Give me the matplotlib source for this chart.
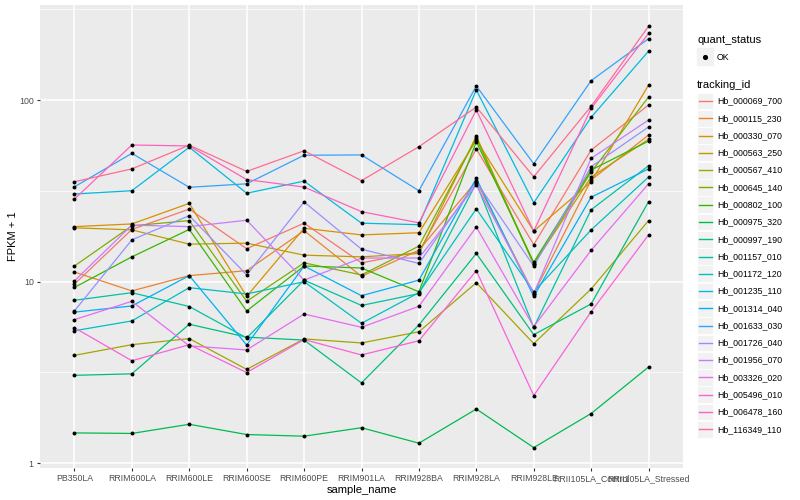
import matplotlib.pyplot as plt
from matplotlib.lines import Line2D
from matplotlib.patches import Rectangle
from matplotlib.ticker import FixedLocator, NullFormatter

plt.rcParams['font.family'] = ['Liberation Sans', 'DejaVu Sans']

# x categories
samples = ["PB350LA", "RRIM600LA", "RRIM600LE", "RRIM600SE", "RRIM600PE", "RRIM901LA",
           "RRIM928BA", "RRIM928LA", "RRIM928LE", "RRII105LA_Control", "RRII105LA_Stressed"]

# FPKM + 1 per gene, one value per sample
hb_000069_700 = [9.7, 19.4, 25.1, 15.2, 21.0, 12.7, 14.6, 53.8, 16.0, 53.1, 94.0]
hb_000115_230 = [11.3, 8.9, 10.8, 11.5, 19.1, 10.7, 14.9, 35.8, 8.6, 36.3, 64.2]
hb_000330_070 = [20.1, 20.8, 27.0, 8.3, 19.7, 18.1, 18.6, 60.3, 19.0, 35.5, 121.0]
hb_000563_250 = [19.8, 19.3, 16.1, 16.3, 14.0, 13.7, 14.3, 63.4, 12.5, 37.7, 60.8]
hb_000567_410 = [3.93, 4.50, 4.86, 3.29, 4.84, 4.60, 5.30, 9.87, 4.56, 9.12, 21.7]
hb_000645_140 = [12.2, 20.3, 21.7, 7.8, 12.7, 10.9, 15.7, 61.8, 12.5, 40.2, 104.0]
hb_000802_100 = [9.3, 13.7, 19.4, 6.9, 12.2, 11.9, 8.8, 59.0, 12.8, 41.2, 59.5]
hb_000975_320 = [1.47, 1.46, 1.64, 1.44, 1.41, 1.57, 1.29, 1.99, 1.22, 1.88, 3.39]
hb_000997_190 = [3.05, 3.11, 5.83, 4.95, 4.77, 2.77, 5.78, 14.3, 5.11, 7.54, 27.6]
hb_001157_010 = [7.9, 8.7, 7.3, 4.9, 10.2, 7.4, 8.6, 34.9, 5.6, 24.9, 43.5]
hb_001172_120 = [5.37, 6.08, 9.27, 8.56, 10.0, 5.90, 8.7, 25.2, 8.8, 19.3, 37.7]
hb_001235_110 = [30.4, 31.7, 55.0, 30.7, 35.8, 21.0, 20.6, 113.7, 27.2, 80.4, 186.0]
hb_001314_040 = [6.8, 7.35, 10.8, 4.48, 12.2, 8.37, 10.2, 37.1, 8.3, 29.2, 41.8]
hb_001633_030 = [33.3, 50.9, 33.1, 34.6, 49.7, 49.9, 31.7, 119.6, 44.6, 128.0, 218.0]
hb_001726_040 = [6.9, 17.0, 23.1, 10.9, 27.5, 15.1, 12.6, 35.5, 12.2, 43.0, 71.1]
hb_001956_070 = [10.1, 20.5, 20.1, 21.8, 10.2, 13.5, 13.5, 34.1, 8.6, 47.8, 77.7]
hb_003326_020 = [6.18, 7.80, 4.43, 4.21, 6.64, 5.61, 7.32, 20.0, 5.65, 14.9, 34.6]
hb_005496_010 = [5.58, 3.67, 4.50, 3.16, 4.80, 3.95, 4.73, 11.5, 2.36, 6.84, 18.1]
hb_006478_160 = [28.5, 56.6, 55.9, 36.5, 33.2, 24.3, 21.1, 88.2, 19.0, 90.0, 233.0]
hb_116349_110 = [35.5, 41.8, 56.5, 40.5, 52.6, 36.0, 55.4, 91.6, 37.8, 92.5, 255.0]

tracking_ids = ["Hb_000069_700", "Hb_000115_230", "Hb_000330_070", "Hb_000563_250",
                "Hb_000567_410", "Hb_000645_140", "Hb_000802_100", "Hb_000975_320",
                "Hb_000997_190", "Hb_001157_010", "Hb_001172_120", "Hb_001235_110",
                "Hb_001314_040", "Hb_001633_030", "Hb_001726_040", "Hb_001956_070",
                "Hb_003326_020", "Hb_005496_010", "Hb_006478_160", "Hb_116349_110"]
series = [hb_000069_700, hb_000115_230, hb_000330_070, hb_000563_250, hb_000567_410,
          hb_000645_140, hb_000802_100, hb_000975_320, hb_000997_190, hb_001157_010,
          hb_001172_120, hb_001235_110, hb_001314_040, hb_001633_030, hb_001726_040,
          hb_001956_070, hb_003326_020, hb_005496_010, hb_006478_160, hb_116349_110]

# ggplot2 default hue palette for 20 levels
colors = ["#F8766D", "#EA8331", "#D89000", "#C09B00", "#A3A500", "#7CAE00", "#39B600",
          "#00BB4E", "#00BF7D", "#00C1A3", "#00BFC4", "#00BAE0", "#00B0F6", "#35A2FF",
          "#9590FF", "#C77CFF", "#E76BF3", "#FA62DB", "#FF62BC", "#FF6C91"]

W, H = 800, 500
fig = plt.figure(figsize=(8, 5), dpi=100)
ax = fig.add_axes([40 / W, 32 / H, 643 / W, 463 / H])
ax.set_facecolor("#EBEBEB")
for s in ax.spines.values():
    s.set_visible(False)

x = list(range(len(samples)))
for vals, col in zip(series, colors):
    ax.plot(x, vals, color=col, lw=0.9, zorder=2)
for vals in series:
    ax.scatter(x, vals, s=8, color="black", zorder=3, linewidths=0)

ax.set_yscale("log")
ax.set_ylim(0.942, 334)
ax.set_xlim(-0.6, 10.6)
ax.set_yticks([1, 10, 100])
ax.set_yticklabels(["1", "10", "100"])
ax.yaxis.set_minor_locator(FixedLocator([10 ** 0.5, 10 ** 1.5, 10 ** 2.5]))
ax.yaxis.set_minor_formatter(NullFormatter())
ax.set_xticks(x)
ax.set_xticklabels(samples)
ax.grid(which="major", color="white", lw=1.1)
ax.grid(which="minor", axis="y", color="white", lw=0.5)
ax.set_axisbelow(True)
ax.tick_params(which="major", length=2.5, color="#333333", labelcolor="#4D4D4D",
               labelsize=6.3, pad=2)
ax.tick_params(which="minor", length=0)
ax.set_xlabel("sample_name", fontsize=8, labelpad=1)
ax.set_ylabel("FPKM + 1", fontsize=8, labelpad=1)

# legend, ggplot style
def fx(px):
    return px / W


def fy(py):
    return 1 - py / H


fig.text(fx(697), fy(40), "quant_status", fontsize=8, va="center")
fig.add_artist(Rectangle((fx(697), fy(65)), 16 / W, 17 / H, color="#F2F2F2",
                         transform=fig.transFigure))
fig.add_artist(Line2D([fx(705)], [fy(57)], marker="o", ms=2.7, color="black",
                      transform=fig.transFigure))
fig.text(fx(717), fy(57), "OK", fontsize=6.3, va="center")

fig.text(fx(697), fy(85), "tracking_id", fontsize=8, va="center")
for i, (tid, col) in enumerate(zip(tracking_ids, colors)):
    yc = 101 + i * 17.28
    fig.add_artist(Rectangle((fx(697), fy(yc + 8.4)), 16 / W, 16.8 / H,
                             facecolor="#F2F2F2", edgecolor="white", lw=0.6,
                             transform=fig.transFigure))
    fig.add_artist(Line2D([fx(698.5), fx(711.5)], [fy(yc), fy(yc)], color=col, lw=1.0,
                          transform=fig.transFigure))
    fig.text(fx(717), fy(yc), tid, fontsize=6.3, va="center")

fig.savefig("out.png", dpi=100)
